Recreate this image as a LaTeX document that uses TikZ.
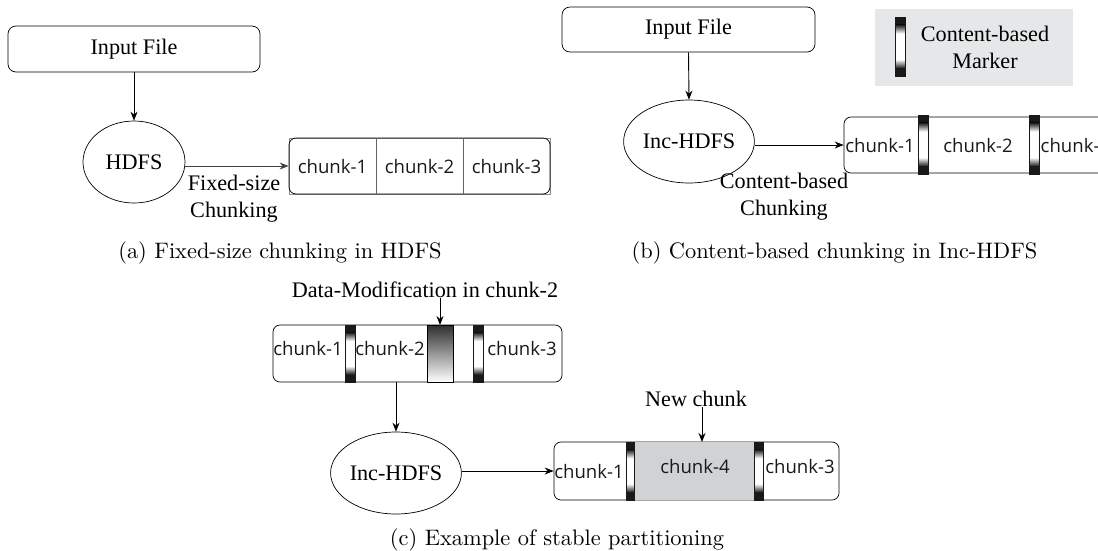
\documentclass[tikz,border=0pt]{standalone}
\usepackage{fontspec}
\newfontfamily\tms{Liberation Serif}
\newfontfamily\sns{Open Sans}
\usetikzlibrary{arrows.meta,shapes.geometric}
\definecolor{legendgray}{HTML}{E6E7E8}
\definecolor{chunkgray}{HTML}{D1D2D4}
\newcommand\cbmark[4]{%
  \pgfmathsetmacro\mka{#3+0.13*(#4-#3)}%
  \pgfmathsetmacro\mkb{#3+0.28*(#4-#3)}%
  \pgfmathsetmacro\mkc{#3+0.72*(#4-#3)}%
  \pgfmathsetmacro\mkd{#3+0.87*(#4-#3)}%
  \fill[white] (#1,#3) rectangle (#2,#4);
  \fill[black!90] (#1,#3) rectangle (#2,\mka);
  \shade[top color=black!90,bottom color=white] (#1,\mka) rectangle (#2,\mkb);
  \shade[top color=white,bottom color=black!90] (#1,\mkc) rectangle (#2,\mkd);
  \fill[black!90] (#1,\mkd) rectangle (#2,#4);
  \draw[black!90,line width=0.9pt] (#1,#3) rectangle (#2,#4);
}
\tikzset{
  serif/.style={font=\tms\fontsize{22.2}{26.5}\selectfont},
  inbox/.style={draw,rounded corners=8pt,line width=0.7pt,serif,inner sep=0pt},
  ell/.style={draw,ellipse,line width=0.7pt,serif,inner sep=0pt},
  chbox/.style={draw,rounded corners=7pt,line width=0.7pt,inner sep=0pt},
  chtxt/.style={font=\sns\fontsize{18.6}{21}\selectfont,text=black!90,inner sep=0pt},
  lbl/.style={serif,align=center,inner sep=0pt},
  captxt/.style={font=\rmfamily\fontsize{10}{12}\selectfont,inner sep=0pt},
  arr/.style={-{Stealth[length=9pt,width=7pt]},line width=0.9pt},
}
\begin{document}
\begin{tikzpicture}[x=1pt,y=-1pt]
\useasboundingbox (0,0) rectangle (1098,550);
\begin{scope}
\clip (0,0) rectangle (1098,550);
% ---------- (a)
\node[inbox,minimum width=252pt,minimum height=46pt] (inA) at (134,49) {Input File};
\node[ell,minimum width=102pt,minimum height=82pt] (hdfsA) at (134,162) {HDFS};
\draw[black!45,line width=0.5pt] (289,138) rectangle (550,194);
\node[chbox,minimum width=261pt,minimum height=56pt] (chA) at (419.5,166) {};
\draw[black!60,line width=0.7pt] (376,138) -- (376,194) (463,138) -- (463,194);
\node[chtxt] (a1) at (332.5,167) {chunk-1};
\node[chtxt] (a2) at (419.5,167) {chunk-2};
\node[chtxt] (a3) at (506.5,167) {chunk-3};
\draw[arr] (inA.south) -- (hdfsA.north);
\draw[arr,black!75] (hdfsA.east |- chA.west) -- (chA.west);
\node[lbl] (lblA) at (234,198.5) {Fixed-size\\Chunking};
\node[captxt] (capA) at (280,253) {\scalebox{2.24}{(a) Fixed-size chunking in HDFS}};
% ---------- (b)
\node[inbox,minimum width=253pt,minimum height=45pt] (inB) at (688.5,29.5) {Input File};
\node[ell,minimum width=102.5pt,minimum height=83pt] (incB) at (689,141.5) {Inc-HDFS};
\node[chbox,minimum width=300pt,minimum height=56pt] (chB) at (994,145) {};
\cbmark{918}{928}{115}{174}
\cbmark{1029}{1039}{115}{174}
\node[chtxt] (b1) at (880,146) {chunk-1};
\node[chtxt] (b2) at (978,146) {chunk-2};
\node[chtxt,anchor=west] (b3) at (1040.5,146) {chunk-3};
\draw[arr] (inB.south) -- (incB.north);
\draw[arr] (incB.east |- chB.west) -- (chB.west);
\node[lbl] (lblB) at (784,196.5) {Content-based\\Chunking};
\fill[legendgray] (875,9) rectangle (1073,86);
\cbmark{895.5}{905}{17}{76}
\node[lbl] (legB) at (985,47.5) {Content-based\\Marker};
\node[captxt] (capB) at (834.5,253) {\scalebox{2.24}{(b) Content-based chunking in Inc-HDFS}};
% ---------- (c)
\node[lbl] (dm) at (425,290) {Data-Modification in chunk-2};
\node[chbox,minimum width=289pt,minimum height=57pt] (chC) at (417.5,353.5) {};
\cbmark{345}{355}{325}{382}
\cbmark{473}{483}{325}{382}
\shade[top color=black!82,bottom color=white] (427,325) rectangle (453,382);
\draw[black,line width=0.9pt] (427,325) rectangle (453,382);
\coordinate (modC) at (440,325);
\node[chtxt] (c1) at (308,349) {chunk-1};
\node[chtxt] (c2) at (390,349) {chunk-2};
\node[chtxt] (c3) at (522,349) {chunk-3};
\draw[arr] (dm.south -| modC) -- (modC);
\node[ell,minimum width=102pt,minimum height=82pt] (incC) at (396,473) {Inc-HDFS};
\draw[arr] (chC.south -| incC.north) -- (incC.north);
\node[chbox,minimum width=285pt,minimum height=58pt] (chD) at (696.5,471) {};
\fill[chunkgray] (634,442.4) rectangle (754,499.6);
\cbmark{626}{634}{442}{500}
\cbmark{754}{763}{442}{500}
\coordinate (newC) at (702,442);
\node[chtxt] (d1) at (589,472) {chunk-1};
\node[chtxt] (d4) at (695,467) {chunk-4};
\node[chtxt] (d3) at (800,467) {chunk-3};
\draw[arr] (incC.east |- chD.west) -- (chD.west);
\node[lbl] (nc) at (696,399) {New chunk};
\draw[arr] (nc.south -| newC) -- (newC);
\node[captxt] (capC) at (557,540) {\scalebox{2.24}{(c) Example of stable partitioning}};
\end{scope}
\end{tikzpicture}
\end{document}
